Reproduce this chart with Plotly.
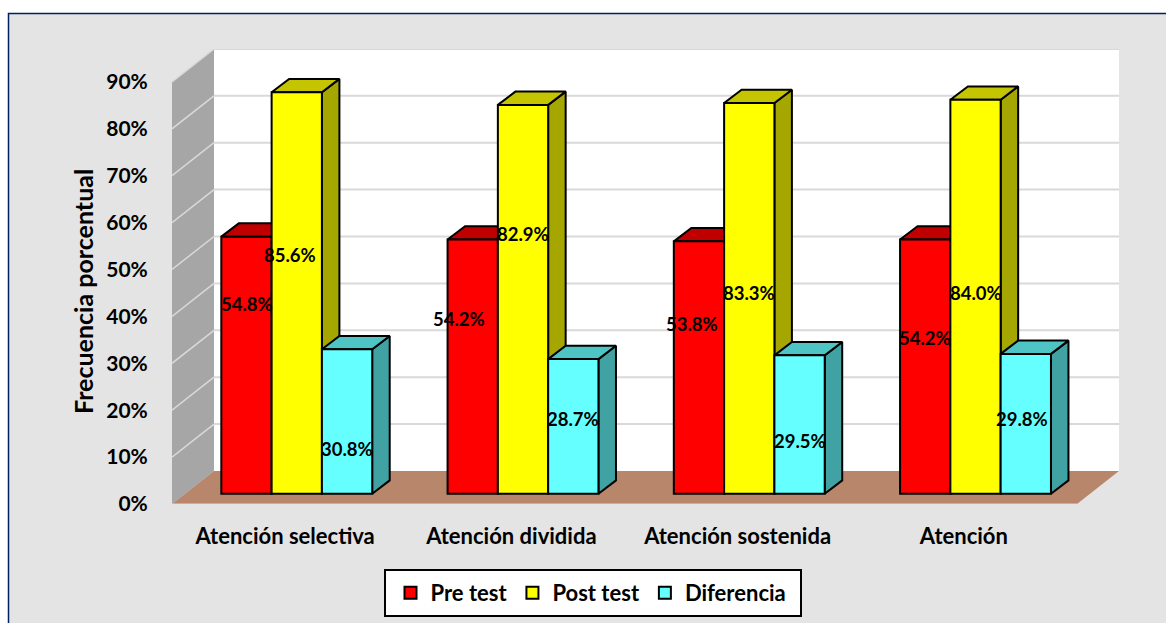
import plotly.graph_objects as go

# ---- data ----
categories = ["Atención selectiva", "Atención dividida", "Atención sostenida", "Atención"]
pre_test = [54.8, 54.2, 53.8, 54.2]
post_test = [85.6, 82.9, 83.3, 84.0]
diferencia = [30.8, 28.7, 29.5, 29.8]
y_ticks = [0, 10, 20, 30, 40, 50, 60, 70, 80, 90]

# ---- manual data-label anchors (axis units), as placed in the original ----
pre_label_x = [-0.169, 0.769, 1.798, 2.828]
pre_label_y = [42.6, 39.4, 38.4, 35.4]
post_label_x = [0.022, 1.051, 2.050, 3.054]
post_label_y = [53.0, 57.5, 44.9, 44.9]
dif_label_x = [0.274, 1.272, 2.276, 3.257]
dif_label_y = [11.7, 18.2, 13.4, 18.2]

# ---- pixel geometry of the pseudo-3D frame ----
W, H = 1166, 623
PX_LEFT, PX_RIGHT, PX_BOTTOM, PX_TOP = 172, 1119, 504, 49
PX_PER_CAT = 226.25
PX_PER_PCT = 4.69
X0, X1 = -0.5, -0.5 + (PX_RIGHT - PX_LEFT) / PX_PER_CAT
Y1 = (PX_BOTTOM - PX_TOP) / PX_PER_PCT
WALL_DX = 42 / PX_PER_CAT
WALL_DY = 33 / PX_PER_PCT
X_FRONT_END = 3.5
BAR_BASE = 2.2
BAR_W = 0.2223
BAR_START = -0.282
DEPTH_X = 17.5 / PX_PER_CAT
DEPTH_Y = 13.3 / PX_PER_PCT

FONT = "Lato, Carlito, Calibri, sans-serif"
GRID = "#d9d9d9"

series = [
    ("Pre test", pre_test, "#ff0000", "#c00000", "#9a0000", pre_label_x, pre_label_y),
    ("Post test", post_test, "#ffff00", "#c4c400", "#a6a600", post_label_x, post_label_y),
    ("Diferencia", diferencia, "#66ffff", "#4fc4c4", "#40a2a2", dif_label_x, dif_label_y),
]

fig = go.Figure()
shapes = []


def poly(xs, ys, fill, line="rgba(0,0,0,0)", width=0):
    path = "M" + " L".join(f"{x:.4f},{y:.4f}" for x, y in zip(xs, ys)) + " Z"
    shapes.append(dict(type="path", path=path, xref="x", yref="y", layer="below",
                       fillcolor=fill, line=dict(color=line, width=width)))


# chart area
shapes.append(dict(type="rect", xref="paper", yref="paper", layer="below",
                   x0=8.5 / W, x1=1.1, y0=-0.1, y1=1 - 13.5 / H,
                   fillcolor="#e4e4e4", line=dict(color="#002060", width=1.5)))
# legend box
shapes.append(dict(type="rect", xref="paper", yref="paper", layer="below",
                   x0=385 / W, x1=801 / W, y0=1 - 616 / H, y1=1 - 570 / H,
                   fillcolor="#ffffff", line=dict(color="#000000", width=2)))
# back wall, side wall, floor
poly([X0 + WALL_DX, X1, X1, X0 + WALL_DX], [WALL_DY, WALL_DY, Y1, Y1], "#ffffff")
poly([X0, X0 + WALL_DX, X0 + WALL_DX, X0], [0, WALL_DY, Y1, 90], "#a6a6a6")
poly([X0, X_FRONT_END, X1, X0 + WALL_DX], [0, 0, WALL_DY, WALL_DY], "#b8866a")
# gridlines on the walls
for t in y_ticks:
    if t == 0:
        shapes.append(dict(type="line", xref="x", yref="y", layer="below",
                           x0=X0, x1=X_FRONT_END, y0=0, y1=0, line=dict(color=GRID, width=1)))
        continue
    shapes.append(dict(type="line", xref="x", yref="y", layer="below",
                       x0=X0, x1=X0 + WALL_DX, y0=t, y1=t + WALL_DY, line=dict(color=GRID, width=1.5)))
    shapes.append(dict(type="line", xref="x", yref="y", layer="below",
                       x0=X0 + WALL_DX, x1=X1, y0=t + WALL_DY, y1=t + WALL_DY, line=dict(color=GRID, width=2)))

# top and side faces of the bars, derived from the values
for s, (name, vals, front, top, side, _, _) in enumerate(series):
    left = BAR_START + s * BAR_W
    top_x, top_y, side_x, side_y = [], [], [], []
    for i, v in enumerate(vals):
        xa = i + left
        xb = xa + BAR_W
        yt = BAR_BASE + v
        top_x += [xa, xb, xb + DEPTH_X, xa + DEPTH_X, xa, None]
        top_y += [yt, yt, yt + DEPTH_Y, yt + DEPTH_Y, yt, None]
        side_x += [xb, xb + DEPTH_X, xb + DEPTH_X, xb, xb, None]
        side_y += [yt, yt + DEPTH_Y, BAR_BASE + DEPTH_Y, BAR_BASE, yt, None]
    for xs, ys, col in ((side_x, side_y, side), (top_x, top_y, top)):
        fig.add_trace(go.Scatter(x=xs, y=ys, mode="lines", fill="toself", fillcolor=col,
                                 line=dict(color="#000000", width=2), showlegend=False,
                                 hoverinfo="skip", xaxis="x", yaxis="y"))

# front faces
for s, (name, vals, front, top, side, _, _) in enumerate(series):
    fig.add_trace(go.Bar(name=name, x=list(range(len(categories))), y=vals, base=BAR_BASE,
                         offset=BAR_START + s * BAR_W, width=BAR_W,
                         marker=dict(color=front, line=dict(color="#000000", width=2)),
                         xaxis="x2", yaxis="y2"))

annotations = []
for name, vals, front, top, side, lx, ly in series:
    for v, x, y in zip(vals, lx, ly):
        annotations.append(dict(x=x, y=y, xref="x", yref="y", text=f"<b>{v:.1f}%</b>", showarrow=False,
                                font=dict(family=FONT, size=18.5, color="#000000")))
annotations.append(dict(x=83 / W, y=1 - 292 / H, xref="paper", yref="paper", xanchor="center",
                        yanchor="middle", text="<b>Frecuencia porcentual</b>", textangle=-90,
                        showarrow=False, font=dict(family=FONT, size=25, color="#000000")))

dom_x = [PX_LEFT / W, PX_RIGHT / W]
dom_y = [1 - PX_BOTTOM / H, 1 - PX_TOP / H]
fig.update_layout(
    width=W, height=H, margin=dict(l=0, r=0, t=0, b=0, autoexpand=False),
    paper_bgcolor="#ffffff", plot_bgcolor="rgba(0,0,0,0)",
    barmode="overlay", shapes=shapes, annotations=annotations,
    font=dict(family=FONT, color="#000000"),
    xaxis=dict(domain=dom_x, range=[X0, X1], tickmode="array", tickvals=list(range(len(categories))),
               ticktext=[f"<b>{c}</b>" for c in categories], showgrid=False, zeroline=False,
               showline=False, ticks="outside", ticklen=13, tickcolor="rgba(0,0,0,0)",
               tickfont=dict(family=FONT, size=22, color="#000000"), fixedrange=True),
    yaxis=dict(domain=dom_y, range=[0, Y1], tickmode="array", tickvals=y_ticks,
               ticktext=[f"<b>{t}%</b>" for t in y_ticks], showgrid=False, zeroline=False,
               showline=False, ticks="outside", ticklen=19, tickcolor="rgba(0,0,0,0)",
               tickfont=dict(family=FONT, size=21, color="#000000"), fixedrange=True),
    xaxis2=dict(domain=dom_x, overlaying="x", matches="x", visible=False, anchor="y2"),
    yaxis2=dict(domain=dom_y, overlaying="y", matches="y", visible=False, anchor="x2"),
    legend=dict(orientation="h", x=591 / W, xanchor="center", y=1 - 593 / H, yanchor="middle",
                bgcolor="rgba(0,0,0,0)", borderwidth=0, traceorder="normal", itemsizing="constant",
                itemwidth=30, tracegroupgap=0,
                font=dict(family=FONT, size=22, color="#000000", weight="bold")),
)

fig.write_html("out.html", config={"displayModeBar": False},
               post_script="document.body.style.margin='0';document.body.style.overflow='hidden';")
